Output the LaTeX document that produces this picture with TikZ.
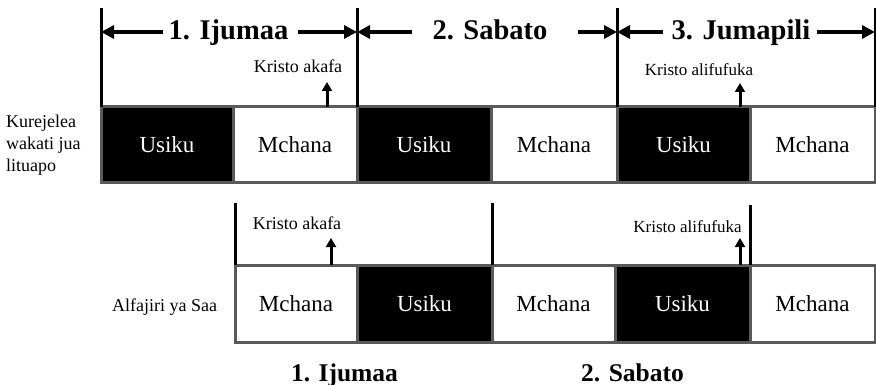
\documentclass[tikz,border=0pt]{standalone}
\usepackage{fontspec}
\setmainfont{Liberation Serif}
\usetikzlibrary{arrows.meta}
\definecolor{edgegray}{HTML}{5A5A5A}
\tikzset{
  daybox/.style={draw=edgegray, line width=3pt, fill=white, minimum width=#1,
    minimum height=76pt, inner sep=0pt, outer sep=0pt, anchor=north west,
    font=\fontsize{23}{25}\selectfont},
  nightbox/.style={daybox=#1, fill=black, text=white},
  vline/.style={line width=3pt, black},
  harrow/.style={line width=3.5pt, -{Triangle[length=13pt,width=13pt]}},
  sarrow/.style={line width=3pt, -{Triangle[length=9pt,width=10pt]}},
  headtext/.style={font=\fontsize{28.5}{30}\selectfont\bfseries, anchor=base, inner sep=0pt},
  foottext/.style={font=\fontsize{25.5}{27}\selectfont\bfseries, anchor=base, inner sep=0pt},
  kristo/.style={font=\fontsize{17}{19}\selectfont, inner sep=0pt},
  sidetext/.style={font=\fontsize{18}{22}\selectfont, inner sep=0pt}
}
\begin{document}
\begin{tikzpicture}[x=1pt,y=-1pt]
\useasboundingbox[fill=white] (0,0) rectangle (876,385);
% top row
\node[nightbox=132] (t1) at (101,107) {Usiku};
\node[daybox=124]   (t2) at (233,107) {Mchana};
\node[nightbox=134] (t3) at (357,107) {Usiku};
\node[daybox=126]   (t4) at (491,107) {Mchana};
\node[nightbox=133] (t5) at (617,107) {Usiku};
\node[daybox=125]   (t6) at (750,107) {Mchana};
% bottom row
\node[daybox=122, minimum height=77pt]   (b1) at (235,265) {Mchana};
\node[nightbox=135, minimum height=77pt] (b2) at (357,265) {Usiku};
\node[daybox=123, minimum height=77pt]   (b3) at (492,265) {Mchana};
\node[nightbox=135, minimum height=77pt] (b4) at (615,265) {Usiku};
\node[daybox=125, minimum height=77pt]   (b5) at (750,265) {Mchana};
% top vertical lines
\coordinate (v1) at (101,8);
\coordinate (v2) at (357,8);
\coordinate (v3) at (617,8);
\coordinate (v4) at (875,8);
\draw[vline] (t1.north west) -- (v1);
\draw[vline] (t3.north west) -- (v2);
\draw[vline] (t5.north west) -- (v3);
\draw[vline] (t6.north east) -- (v4);
% bottom vertical lines
\coordinate (w1) at (235,203);
\coordinate (w2) at (492,203);
\coordinate (w3) at (750,205);
\draw[vline] (b1.north west) -- (w1);
\draw[vline] (b3.north west) -- (w2);
\draw[vline] (b5.north west) -- (w3);
% headings
\node[headtext] (h1) at (228.5,40) {1. Ijumaa};
\node[headtext] (h2) at (490,40) {2. Sabato};
\node[headtext] (h3) at (741,40) {3. Jumapili};
\coordinate (a1l) at (163,32);
\coordinate (a1r) at (298,32);
\coordinate (a2l) at (412,32);
\coordinate (a2r) at (578,32);
\coordinate (a3l) at (663,32);
\coordinate (a3r) at (817,32);
\draw[harrow] (a1l) -- (a1l -| v1);
\draw[harrow] (a1r) -- (a1r -| v2);
\draw[harrow] (a2l) -- (a2l -| v2);
\draw[harrow] (a2r) -- (a2r -| v3);
\draw[harrow] (a3l) -- (a3l -| v3);
\draw[harrow] (a3r) -- (a3r -| v4);
% Kristo labels and arrows
\node[kristo, font=\fontsize{18}{20}\selectfont] (k1) at (298,66) {Kristo akafa};
\node[kristo, font=\fontsize{17}{19}\selectfont] (k2) at (699,70) {Kristo alifufuka};
\node[kristo, font=\fontsize{18}{20}\selectfont] (k3) at (297,223) {Kristo akafa};
\node[kristo, font=\fontsize{17}{19}\selectfont] (k4) at (687.5,227) {Kristo alifufuka};
\coordinate (p1) at (327,82);
\coordinate (p2) at (740,83);
\coordinate (p3) at (331,238);
\coordinate (p4) at (740,238);
\draw[sarrow] (p1 |- t2.north) -- (p1);
\draw[sarrow] (p2 |- t5.north) -- (p2);
\draw[sarrow] (p3 |- b1.north) -- (p3);
\draw[sarrow] (p4 |- b4.north) -- (p4);
% side labels
\node[sidetext, align=left, anchor=west] (s1) at (6,145) {Kurejelea\\wakati jua\\lituapo};
\node[sidetext, anchor=base] (s2) at (164.5,311) {Alfajiri ya Saa};
% bottom headings
\node[foottext] (f1) at (344.5,381) {1. Ijumaa};
\node[foottext] (f2) at (632.5,381) {2. Sabato};
\end{tikzpicture}
\end{document}
